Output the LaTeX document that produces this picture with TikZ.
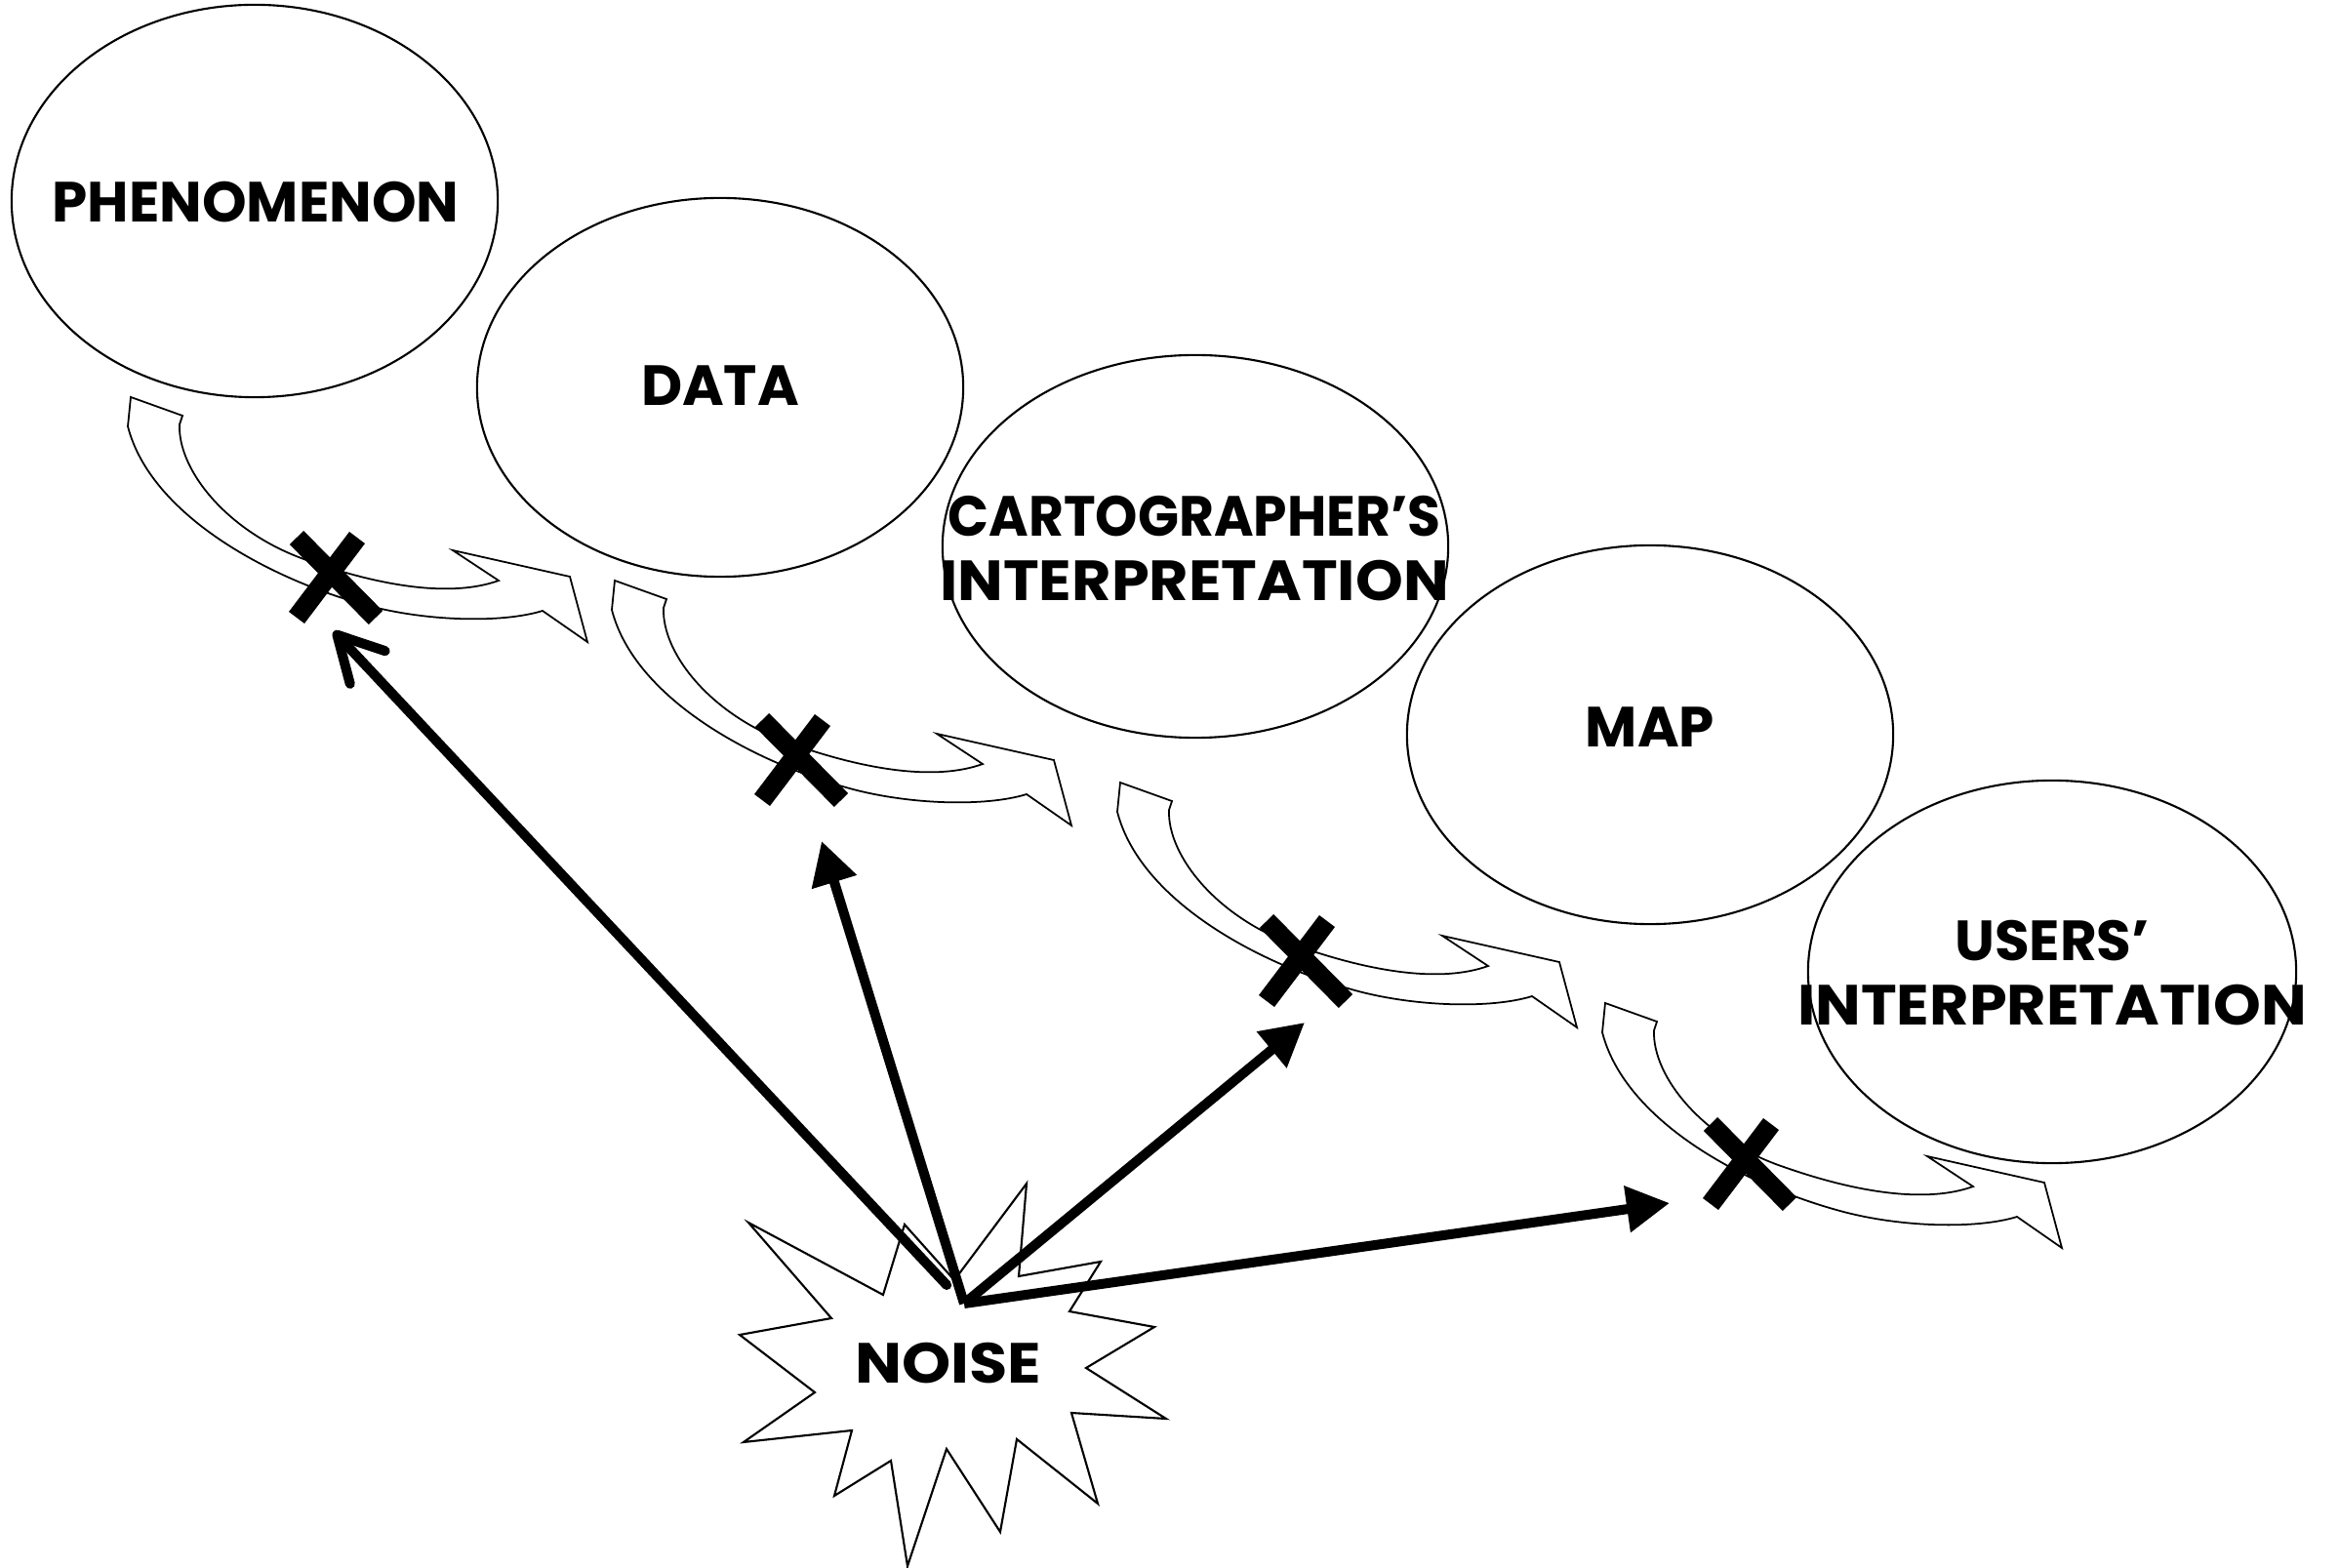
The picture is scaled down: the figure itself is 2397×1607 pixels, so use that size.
\documentclass[tikz,border=0pt]{standalone}
\usepackage{graphicx}
\usepackage{fontspec}
\setmainfont{Poppins}
\usetikzlibrary{arrows.meta,shapes.geometric}
\tikzset{
  bubble/.style={draw, ellipse, line width=0.6pt, fill=white, inner sep=0pt},
  lbl/.style={font=\fontsize{16.5}{19}\selectfont\bfseries, align=center, inner sep=0pt},
  noisearrow/.style={line width=2.85pt, -{Triangle[length=12.5pt,width=13pt]}},
  openarrow/.style={line width=2.85pt, line cap=round, -{Straight Barb[length=13pt,width=14pt,round]}},
  bend/.pic={
    \draw[line width=0.5pt, fill=white] (0,0) -- (53,19) -- (50,28)
      .. controls (48,75) and (100,140) .. (183,168)
      .. controls (260,195) and (330,205) .. (377,188)
      -- (330,157) -- (450,184) -- (468,251) -- (422,219)
      .. controls (380,232) and (300,230) .. (237,212)
      .. controls (140,185) and (20,120) .. (-3,30)
      -- cycle;
  },
  xmark/.pic={
    \draw[line width=0.2cm] (-35,-35) -- (46,47) (27,-35) -- (-35,47);
  }
}
\begin{document}
\begin{tikzpicture}[x=0.01cm,y=-0.01cm]
\useasboundingbox (0,0) rectangle (2397,1607);

% ellipses
\node[bubble, minimum width=4.98cm, minimum height=4.02cm] (e1) at (261,206) {};
\node[bubble, minimum width=4.98cm, minimum height=3.88cm] (e2) at (738,397) {};
\node[bubble, minimum width=5.18cm, minimum height=3.92cm] (e3) at (1225,560) {};
\node[bubble, minimum width=4.98cm, minimum height=3.88cm] (e4) at (1691,753) {};
\node[bubble, minimum width=5.00cm, minimum height=3.92cm] (e5) at (2103,996) {};

\node[lbl] (t1) at (262,207) {PHENOMENON};
\node[lbl] (t2) at (738,395) {DATA};
\node[lbl] (t3) at (1224,562) {\scalebox{0.95}[1]{CARTOGRAPHER’S}\\\scalebox{1.07}[1]{INTERPRETATION}};
\node[lbl] (t4) at (1691,745) {MAP};
\node[lbl] (t5) at (2103,997) {USERS’\\\scalebox{1.07}[1]{INTERPRETATION}};

% curved arrows
\pic at (134,407) {bend};
\pic at (630,595) {bend};
\pic at (1148,802) {bend};
\pic at (1645,1028) {bend};

% crosses
\pic at (339,586) {xmark};
\pic at (816,773) {xmark};
\pic at (1333,979) {xmark};
\pic at (1788,1187) {xmark};

% noise star
\draw[line width=0.6pt, fill=white] (767,1253) -- (905,1327) -- (927,1255) -- (978,1312) -- (1052,1213) -- (1044,1308) -- (1128,1293) -- (1096,1344) -- (1183,1360) -- (1113,1402) -- (1195,1454) -- (1098,1448) -- (1125,1541) -- (1042,1475) -- (1025,1570) -- (970,1485) -- (930,1605) -- (913,1497) -- (855,1533) -- (873,1466) -- (762,1478) -- (835,1427) -- (758,1368) -- (852,1351) -- cycle;
\node[lbl] (noise) at (972,1397) {\scalebox{1.1}[1]{NOISE}};

% noise arrows
\coordinate (src) at (988,1336);
\coordinate (a1) at (342,647);
\coordinate (a2) at (842,862);
\coordinate (a3) at (1337,1048);
\coordinate (a4) at (1711,1233);
\draw[openarrow, shorten <=0.26cm] (src) -- (a1);
\draw[noisearrow] (src) -- (a2);
\draw[noisearrow] (src) -- (a3);
\draw[noisearrow] (src) -- (a4);
\end{tikzpicture}
\end{document}
